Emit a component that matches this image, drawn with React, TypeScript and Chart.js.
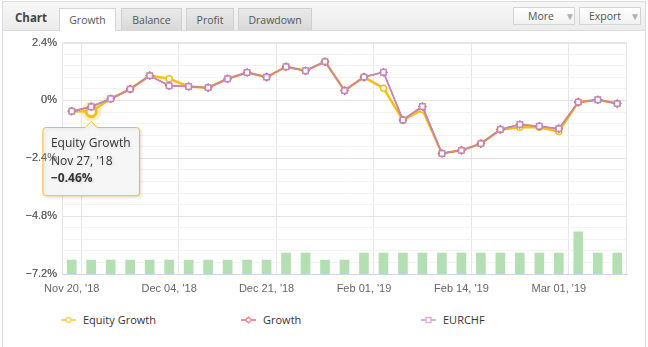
import React, { useEffect, useRef } from 'react';
import { Chart, registerables } from 'chart.js';

Chart.register(...registerables);

// ---------- data ----------
const categories = [
  "Nov 20, '18", "Nov 27, '18", "Nov 28, '18", "Nov 29, '18", "Nov 30, '18",
  "Dec 04, '18", "Dec 05, '18", "Dec 06, '18", "Dec 07, '18", "Dec 14, '18",
  "Dec 21, '18", "Dec 28, '18", "Jan 04, '19", "Jan 11, '19", "Jan 18, '19",
  "Feb 01, '19", "Feb 04, '19", "Feb 05, '19", "Feb 06, '19", "Feb 07, '19",
  "Feb 14, '19", "Feb 18, '19", "Feb 19, '19", "Feb 20, '19", "Feb 21, '19",
  "Mar 01, '19", "Mar 04, '19", "Mar 05, '19", "Mar 06, '19",
];

const equityGrowth = [
  -0.45, -0.46, 0.07, 0.47, 1.03, 0.90, 0.58, 0.53, 0.90, 1.16,
  0.97, 1.40, 1.23, 1.61, 0.41, 0.97, 0.51, -0.81, -0.38, -2.20,
  -2.07, -1.79, -1.22, -1.11, -1.11, -1.29, -0.07, 0.03, -0.13,
];

const growth = [
  -0.45, -0.26, 0.07, 0.47, 1.03, 0.61, 0.58, 0.53, 0.90, 1.16,
  0.97, 1.40, 1.23, 1.61, 0.41, 0.97, 1.17, -0.81, -0.25, -2.20,
  -2.07, -1.79, -1.20, -1.00, -1.07, -1.17, -0.07, 0.03, -0.13,
];

const eurchf = [
  -0.45, -0.26, 0.07, 0.47, 1.03, 0.61, 0.58, 0.53, 0.90, 1.16,
  0.97, 1.40, 1.23, 1.61, 0.41, 0.97, 1.17, -0.81, -0.25, -2.20,
  -2.07, -1.79, -1.20, -1.00, -1.07, -1.17, -0.07, 0.03, -0.13,
];

const volume = [
  2, 2, 2, 2, 2, 2, 2, 2, 2, 2,
  2, 3, 3, 2, 2, 3, 3, 3, 3, 3,
  3, 3, 3, 3, 3, 3, 6, 3, 3,
];

const yMajorTicks = [2.4, 0, -2.4, -4.8, -7.2];
const xLabelEvery = 5;
const tabs = ['Growth', 'Balance', 'Profit', 'Drawdown'];

const seriesNames = ['EURCHF', 'Growth', 'Equity Growth', 'Volume'];
const colors = {
  equity: '#f8bd14',
  growth: '#e8525a',
  eurchf: '#c08cc0',
  bar: '#b3dfb3',
};

const fmtPct = (v: number, digits: number) => {
  const s = (Math.abs(v) < 1e-9 ? '0' : v.toFixed(digits).replace(/\.?0+$/, ''));
  return s.replace('-', '\u2212') + '%';
};

const isMajor = (v: number) => yMajorTicks.some((t) => Math.abs(t - v) < 1e-6);

export default function App() {
  const ref = useRef<HTMLCanvasElement>(null);

  useEffect(() => {
    const canvas = ref.current;
    if (!canvas) return;

    const plotFrame = {
      id: 'plotFrame',
      beforeDatasetsDraw(chart: any) {
        const { ctx, chartArea } = chart;
        const l = Math.round(chartArea.left) + 0.5;
        const r = Math.round(chartArea.right) - 0.5;
        const t = Math.round(chartArea.top) + 0.5;
        const b = Math.round(chartArea.bottom);
        ctx.save();
        ctx.strokeStyle = '#e6e6e6';
        ctx.lineWidth = 1;
        ctx.beginPath();
        ctx.moveTo(l, b);
        ctx.lineTo(l, t);
        ctx.lineTo(r, t);
        ctx.lineTo(r, b);
        ctx.stroke();
        // halo around hovered point
        const meta = chart.getDatasetMeta(2);
        const el = meta.data[1];
        if (el) {
          ctx.fillStyle = 'rgba(248,189,20,0.25)';
          ctx.beginPath();
          ctx.arc(el.x, el.y, 10, 0, Math.PI * 2);
          ctx.fill();
        }
        ctx.restore();
      },
      beforeTooltipDraw(chart: any) {
        const ctx = chart.ctx;
        ctx.save();
        ctx.shadowColor = 'rgba(0,0,0,0.12)';
        ctx.shadowBlur = 3;
        ctx.shadowOffsetX = 1.5;
        ctx.shadowOffsetY = 1.5;
      },
      afterTooltipDraw(chart: any) {
        chart.ctx.restore();
        // axis labels sit above the tooltip, as in the original
        chart.scales.y.drawLabels(chart.chartArea);
      },
    };

    const chart = new Chart(canvas, {
      type: 'line',
      data: {
        labels: categories,
        datasets: [
          {
            label: seriesNames[0],
            data: eurchf,
            borderColor: colors.eurchf,
            borderWidth: 1.5,
            pointStyle: 'rect',
            pointRadius: 3.8,
            pointBorderWidth: 1.5,
            pointBackgroundColor: '#ffffff',
            pointBorderColor: colors.eurchf,
            tension: 0,
            yAxisID: 'y',
          },
          {
            label: seriesNames[1],
            data: growth,
            borderColor: colors.growth,
            borderWidth: 1.5,
            pointStyle: 'rectRot',
            pointRadius: 3.5,
            pointBorderWidth: 1.5,
            pointBackgroundColor: '#ffffff',
            pointBorderColor: colors.growth,
            tension: 0,
            yAxisID: 'y',
          },
          {
            label: seriesNames[2],
            data: equityGrowth,
            borderColor: colors.equity,
            borderWidth: 2.5,
            pointStyle: 'circle',
            pointRadius: 3,
            pointBorderWidth: 1.5,
            pointBackgroundColor: '#ffffff',
            pointBorderColor: colors.equity,
            pointHoverRadius: 5,
            pointHoverBorderWidth: 3,
            pointHoverBackgroundColor: '#ffffff',
            pointHoverBorderColor: colors.equity,
            tension: 0,
            yAxisID: 'y',
          },
          {
            type: 'bar',
            label: seriesNames[3],
            data: volume,
            backgroundColor: colors.bar,
            borderWidth: 0,
            barThickness: 9,
            yAxisID: 'y1',
          } as any,
        ],
      },
      options: {
        responsive: false,
        maintainAspectRatio: false,
        animation: false,
        events: [],
        layout: { padding: { left: 0, right: 21, top: 11, bottom: 0 } },
        plugins: {
          legend: { display: false },
          title: { display: false },
          tooltip: {
            enabled: true,
            backgroundColor: 'rgba(247,247,247,0.94)',
            borderColor: colors.equity,
            borderWidth: 1,
            titleColor: '#333333',
            bodyColor: '#333333',
            titleFont: { family: "'Open Sans', sans-serif", size: 12, weight: 'normal' },
            bodyFont: { family: "'Open Sans', sans-serif", size: 12, weight: 'bold' },
            titleSpacing: 3,
            titleMarginBottom: 3,
            padding: { left: 8, right: 9, top: 9, bottom: 10 },
            caretSize: 6,
            caretPadding: 10,
            cornerRadius: 3,
            displayColors: false,
            xAlign: 'center',
            yAlign: 'top',
            callbacks: {
              title: (items: any[]) => {
                const it = items[0];
                return [it.dataset.label, categories[it.dataIndex]];
              },
              label: (it: any) => fmtPct(it.raw, 2),
            },
          },
        },
        scales: {
          x: {
            type: 'category',
            offset: true,
            grid: {
              offset: true,
              drawTicks: false,
              color: (ctx: any) => (ctx.index % xLabelEvery === 1 ? '#e6e6e6' : 'rgba(0,0,0,0)'),
              lineWidth: 1,
            },
            border: { display: true, color: '#ccd6eb', width: 1 },
            ticks: {
              autoSkip: false,
              maxRotation: 0,
              minRotation: 0,
              padding: 8,
              color: '#666666',
              font: { family: "'Liberation Sans', Arial, sans-serif", size: 11 },
              callback: (_v: any, i: number) => (i % xLabelEvery === 0 ? categories[i] : ''),
            },
            afterFit: (s: any) => {
              s.height = 36;
            },
          },
          y: {
            type: 'linear',
            position: 'left',
            min: -7.2,
            max: 2.4,
            grid: {
              drawTicks: false,
              color: (ctx: any) => (ctx.tick && isMajor(ctx.tick.value) ? '#e3e3e3' : '#f3f3f3'),
              lineWidth: 1,
            },
            border: { display: false },
            ticks: {
              stepSize: 0.48,
              autoSkip: false,
              padding: 5,
              color: '#666666',
              font: { family: "'Liberation Sans', Arial, sans-serif", size: 11 },
              callback: (v: any) => (isMajor(Number(v)) ? fmtPct(Number(v), 1) : ''),
            },
            afterFit: (s: any) => {
              s.width = 62;
            },
          },
          y1: {
            type: 'linear',
            display: false,
            min: 0,
            max: 33,
          },
        },
      } as any,
      plugins: [plotFrame],
    });

    const active = [{ datasetIndex: 2, index: 1 }];
    chart.setActiveElements(active);
    chart.tooltip?.setActiveElements(active, { x: 0, y: 0 });
    chart.update();

    return () => chart.destroy();
  }, []);

  const tabBase: React.CSSProperties = {
    position: 'absolute',
    top: 8,
    height: 22,
    boxSizing: 'border-box',
    border: '1px solid #cfcfcf',
    borderBottom: 'none',
    fontSize: 10.5,
    color: '#555',
    display: 'flex',
    alignItems: 'center',
    justifyContent: 'center',
    background: 'linear-gradient(#e9e9e9, #d9d9d9)',
  };
  const tabPos = [
    { left: 59, width: 57 },
    { left: 121, width: 61 },
    { left: 186, width: 48 },
    { left: 238, width: 74 },
  ];

  const btn: React.CSSProperties = {
    position: 'absolute',
    top: 7,
    height: 18,
    width: 62,
    boxSizing: 'border-box',
    border: '1px solid #d3d3d3',
    background: 'linear-gradient(#ffffff, #f1f1f1)',
    fontSize: 10.5,
    color: '#555',
    display: 'flex',
    alignItems: 'center',
  };

  const legendItems = [
    { name: 'Equity Growth', color: colors.equity, shape: 'circle', left: 61 },
    { name: 'Growth', color: colors.growth, shape: 'diamond', left: 241 },
    { name: 'EURCHF', color: colors.eurchf, shape: 'square', left: 421 },
  ];

  return (
    <div
      style={{
        position: 'fixed',
        left: 0,
        top: 0,
        width: 648,
        height: 347,
        background: '#fff',
        overflow: 'hidden',
        fontFamily: "'Open Sans', sans-serif",
      }}
    >
      {/* frame */}
      <div
        style={{
          position: 'absolute',
          left: 2,
          top: 1,
          width: 644,
          height: 360,
          border: '1px solid #dcdcdc',
          boxSizing: 'border-box',
        }}
      />
      {/* header */}
      <div
        style={{
          position: 'absolute',
          left: 3,
          top: 2,
          width: 642,
          height: 28,
          background: 'linear-gradient(#f7f7f7, #ececec)',
          borderBottom: '1px solid #d9d9d9',
        }}
      />
      <div
        style={{
          position: 'absolute',
          left: 15,
          top: 9,
          fontSize: 11.5,
          fontWeight: 700,
          color: '#444',
          lineHeight: '18px',
        }}
      >
        Chart
      </div>
      {tabs.map((t, i) => (
        <div
          key={t}
          style={{
            ...tabBase,
            left: tabPos[i].left,
            width: tabPos[i].width,
            ...(i === 0
              ? { background: '#ffffff', height: 23, borderColor: '#d4d4d4' }
              : {}),
          }}
        >
          {t}
        </div>
      ))}
      <div style={{ ...btn, left: 513 }}>
        <span style={{ marginLeft: 14 }}>More</span>
        <span style={{ marginLeft: 11, fontSize: 10, color: '#b0b0b0' }}>{'\u25BC'}</span>
      </div>
      <div style={{ ...btn, left: 579 }}>
        <span style={{ marginLeft: 9 }}>Export</span>
        <span style={{ marginLeft: 9, fontSize: 10, color: '#b0b0b0' }}>{'\u25BC'}</span>
      </div>

      {/* chart canvas */}
      <div style={{ position: 'absolute', left: 0, top: 31, width: 648, height: 279 }}>
        <canvas ref={ref} width={648} height={279} style={{ width: 648, height: 279, display: 'block' }} />
      </div>

      {/* legend */}
      {legendItems.map((it) => (
        <div
          key={it.name}
          style={{
            position: 'absolute',
            left: it.left,
            top: 311,
            height: 17,
            display: 'flex',
            alignItems: 'center',
            fontSize: 11,
            color: '#333',
            whiteSpace: 'nowrap',
          }}
        >
          <svg width={15} height={10} style={{ marginRight: 7, opacity: 0.65 }}>
            <line x1={0} y1={5} x2={15} y2={5} stroke={it.color} strokeWidth={2} />
            {it.shape === 'circle' && (
              <circle cx={7.5} cy={5} r={2.5} fill="#fff" stroke={it.color} strokeWidth={1.5} />
            )}
            {it.shape === 'diamond' && (
              <polygon points="7.5,2 10.5,5 7.5,8 4.5,5" fill="#fff" stroke={it.color} strokeWidth={1.5} />
            )}
            {it.shape === 'square' && (
              <rect x={5} y={2.5} width={5} height={5} fill="#fff" stroke={it.color} strokeWidth={1.5} />
            )}
          </svg>
          {it.name}
        </div>
      ))}
    </div>
  );
}
